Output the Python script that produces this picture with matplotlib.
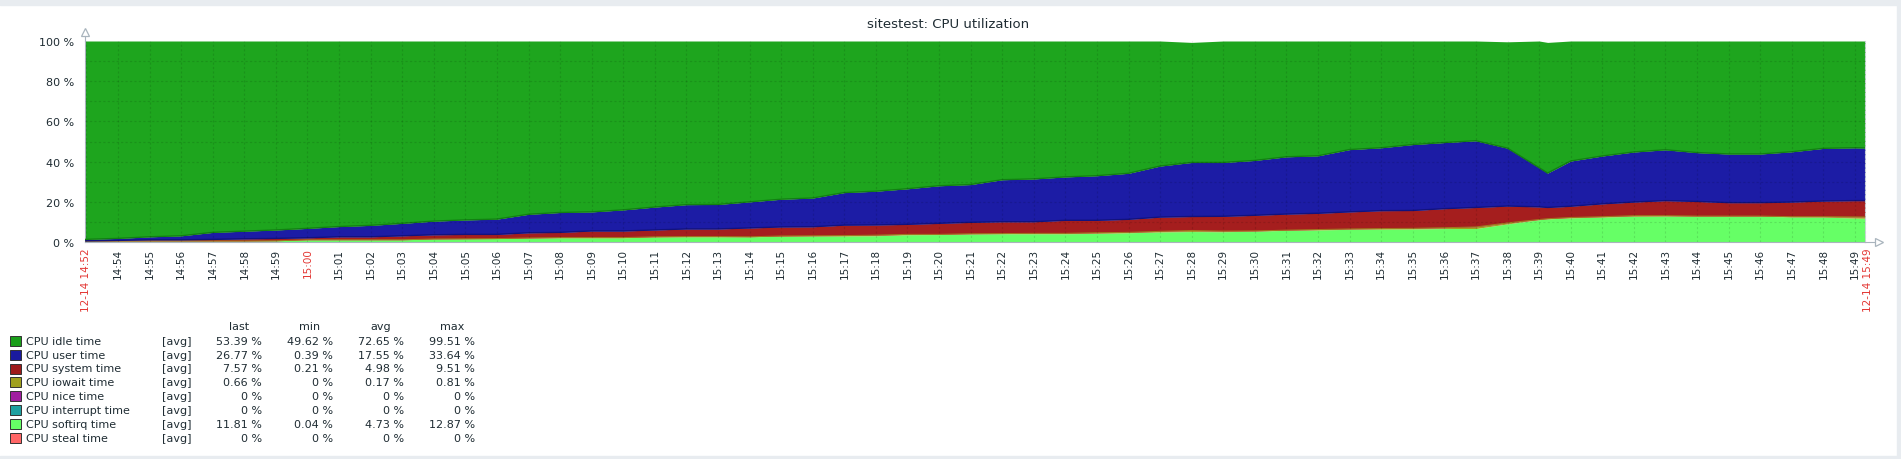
import matplotlib
matplotlib.use("Agg")
import matplotlib.pyplot as plt
from matplotlib.patches import Rectangle

W, H = 1901, 460
TEXT = "#1f2c33"
RED_LABEL = "#e33734"
AXIS_GREY = "#a9b4bd"

# sample times, minutes after 14:52 on 12-14
time_min = [0.955, 2, 3, 4, 5, 6, 7, 8, 9, 10, 11, 12, 13, 14, 15, 16, 17, 18,
            19, 20, 21, 22, 23, 24, 25, 26, 27, 28, 29, 30, 31, 32, 33, 34, 35,
            36, 37, 38, 39, 40, 41, 42, 43, 44, 45, 46, 47, 47.27, 48, 49, 50,
            51, 52, 53, 54, 55, 56, 57, 57.32]

# stacked levels (%), bottom to top
softirq_top = [0.4, 0.5, 0.5, 0.5, 0.5, 0.5, 0.6, 1.1, 1.1, 1.1, 1.1, 1.5, 1.6,
               1.7, 1.9, 2.1, 2.1, 2.1, 2.5, 2.6, 2.6, 2.6, 2.8, 3.0, 3.0, 3.1,
               3.6, 3.7, 4.0, 4.1, 4.1, 4.1, 4.3, 4.6, 5.0, 5.2, 5.1, 5.4, 5.8,
               6.0, 6.3, 6.4, 6.5, 6.7, 6.7, 9.0, 11.1, 11.5, 12.0, 12.4, 12.8,
               12.9, 12.8, 12.8, 12.8, 12.5, 12.4, 11.9, 11.8]
iowait_top = [0.4, 0.5, 0.5, 0.5, 0.5, 0.5, 0.6, 1.1, 1.1, 1.1, 1.1, 1.5, 1.6,
              1.7, 2.0, 2.2, 2.2, 2.2, 2.6, 2.7, 2.7, 2.6, 3.0, 3.1, 3.2, 3.4,
              3.8, 3.8, 4.1, 4.2, 4.3, 4.3, 4.6, 4.8, 5.3, 5.7, 5.4, 5.5, 5.9,
              6.2, 6.5, 6.7, 6.8, 7.1, 7.5, 9.5, 11.2, 11.6, 12.2, 12.6, 13.1,
              13.1, 12.9, 12.9, 12.9, 12.6, 12.6, 12.5, 12.46]
system_top = [0.6, 0.8, 1.1, 1.1, 1.3, 1.6, 1.8, 2.1, 2.6, 2.6, 3.1, 3.6, 3.8,
              3.8, 4.6, 4.8, 5.5, 5.5, 6.0, 6.5, 6.5, 7.0, 7.5, 7.6, 8.4, 8.5,
              8.8, 9.3, 9.8, 10.1, 10.1, 10.8, 10.8, 11.3, 12.4, 12.7, 12.8,
              13.3, 13.9, 14.3, 15.0, 15.6, 15.7, 16.6, 17.2, 17.9, 17.5, 17.2,
              17.8, 19.0, 19.9, 20.6, 20.2, 19.6, 19.6, 19.9, 20.4, 20.6, 20.6]
user_top = [1.3, 1.8, 2.6, 3.1, 4.8, 5.4, 6.0, 6.8, 7.7, 8.3, 9.3, 10.4, 11.0,
            11.4, 13.8, 14.7, 15.0, 16.0, 17.4, 18.6, 18.7, 20.0, 21.3, 21.9,
            24.6, 25.3, 26.5, 28.0, 28.6, 31.0, 31.4, 32.4, 33.0, 34.2, 37.8,
            39.6, 39.6, 40.6, 42.4, 42.9, 46.0, 46.9, 48.5, 49.5, 50.4, 46.7,
            37.0, 34.3, 40.3, 42.8, 44.8, 45.9, 44.5, 43.8, 43.8, 44.9, 46.6,
            46.9, 46.8]
idle_top = [100, 100, 100, 100, 100, 100, 100, 100, 100, 100, 100, 100, 100,
            100, 100, 100, 100, 100, 100, 100, 100, 100, 100, 100, 100, 100,
            100, 100, 100, 100, 100, 100, 100, 100, 100, 99.3, 100, 100, 100,
            100, 100, 100, 100, 100, 100, 99.6, 100, 99.3, 100, 100, 100, 100,
            100, 100, 100, 100, 100, 100, 100]

tick_min = list(range(2, 58))
tick_labels = (["14:%02d" % m for m in range(54, 60)]
               + ["15:%02d" % m for m in range(0, 50)])
red_ticks = ["15:00"]
start_label = "12-14 14:52"
end_label = "12-14 15:49"

# legend table
names = ["CPU idle time", "CPU user time", "CPU system time", "CPU iowait time",
         "CPU nice time", "CPU interrupt time", "CPU softirq time", "CPU steal time"]
swatches = ["#1a9e1a", "#1a1a9e", "#9e1a1a", "#a0a01e", "#a01ea0", "#1ea0a0",
            "#66ff66", "#ff6666"]
last_v = ["53.39 %", "26.77 %", "7.57 %", "0.66 %", "0 %", "0 %", "11.81 %", "0 %"]
min_v = ["49.62 %", "0.39 %", "0.21 %", "0 %", "0 %", "0 %", "0.04 %", "0 %"]
avg_v = ["72.65 %", "17.55 %", "4.98 %", "0.17 %", "0 %", "0 %", "4.73 %", "0 %"]
max_v = ["99.51 %", "33.64 %", "9.51 %", "0.81 %", "0 %", "0 %", "12.87 %", "0 %"]

fig = plt.figure(figsize=(W / 100, H / 100), dpi=100)
fig.patch.set_facecolor("white")


def fx(x):
    return x / W


def fy(y):
    return 1 - y / H


# page chrome
fig.patches.append(Rectangle((0, fy(6)), 1, 6 / H, transform=fig.transFigure,
                             color="#e8ecf0", zorder=0))
fig.patches.append(Rectangle((0, 0), 1, 3 / H, transform=fig.transFigure,
                             color="#e8ecf0", zorder=0))
fig.patches.append(Rectangle((fx(1897), 0), 4 / W, 1, transform=fig.transFigure,
                             color="#e8ecf0", zorder=0))

ax = fig.add_axes([fx(85), fy(243), 1780 / W, 201 / H])
ax.set_xlim(0.955, 57.32)
ax.set_ylim(0, 100)
ax.set_facecolor("white")

zero = [0] * len(time_min)
ax.fill_between(time_min, zero, softirq_top, color="#66ff66", lw=0, zorder=2)
ax.fill_between(time_min, softirq_top, iowait_top, color="#a0a01e", lw=0, zorder=2)
ax.fill_between(time_min, iowait_top, system_top, color="#a51e1e", lw=0, zorder=2)
ax.fill_between(time_min, system_top, user_top, color="#1c1ca5", lw=0, zorder=2)
ax.fill_between(time_min, user_top, idle_top, color="#1ea51e", lw=0, zorder=2)
ax.plot(time_min, iowait_top, color="#a07a1e", lw=0.7, zorder=3)
ax.plot(time_min, system_top, color="#12127e", lw=1.0, zorder=3)
ax.plot(time_min, user_top, color="#128012", lw=1.0, zorder=3)

# dotted grid over the areas
for m in range(1, 58):
    ax.axvline(m, color=(0, 0, 0, 0.11), lw=0.8, ls=(0, (2, 2)), zorder=4)
for v in range(10, 100, 10):
    ax.axhline(v, color=(0, 0, 0, 0.11), lw=0.8, ls=(0, (2, 2)), zorder=4)

ax.spines["top"].set_visible(False)
ax.spines["left"].set_color(AXIS_GREY)
ax.spines["bottom"].set_color(AXIS_GREY)
ax.spines["right"].set_color("#c8d0d6")
ax.spines["right"].set_linestyle((0, (2, 2)))
ax.spines["left"].set_linewidth(0.8)
ax.spines["bottom"].set_linewidth(0.8)

# axis arrows
ax.plot([0.955], [104.5], marker="^", ms=6, mfc="white", mec=AXIS_GREY,
        mew=0.9, clip_on=False, zorder=5)
ax.plot([0.955, 0.955], [100, 103], color=AXIS_GREY, lw=0.8, clip_on=False)
ax.plot([57.32, 57.62], [0, 0], color=AXIS_GREY, lw=0.8, clip_on=False)
ax.plot([57.75], [0], marker=">", ms=6, mfc="white", mec=AXIS_GREY,
        mew=0.9, clip_on=False, zorder=5)

ax.set_yticks(range(0, 101, 20))
ax.set_yticklabels(["%d %%" % v for v in range(0, 101, 20)])
ax.tick_params(axis="y", length=0, pad=8, labelsize=8, labelcolor=TEXT)

ax.set_xticks(tick_min)
ax.set_xticklabels(tick_labels, rotation=90, va="top", ha="center")
ax.tick_params(axis="x", length=0, pad=4, labelsize=7.5, labelcolor=TEXT)
for lab in ax.get_xticklabels():
    if lab.get_text() in red_ticks:
        lab.set_color(RED_LABEL)

# period start / end labels
for xv, txt, dx in [(0.955, start_label, 0.5), (57.32, end_label, 2.5)]:
    ax.annotate(txt, xy=(xv, 0), xycoords=("data", "axes fraction"),
                xytext=(dx, -4), textcoords="offset points", rotation=90,
                ha="center", va="top", fontsize=7.5, color=RED_LABEL,
                annotation_clip=False)

fig.text(fx(948), fy(24), "sitestest: CPU utilization", ha="center",
         va="center", fontsize=9.5, color=TEXT)

# legend table
col_right = [262, 333, 404, 475]
headers = ["last", "min", "avg", "max"]
for xr, h in zip(col_right, headers):
    fig.text(fx(xr - 23), fy(327), h, ha="center", va="center", fontsize=8,
             color=TEXT)
for i, name in enumerate(names):
    y = 341.7 + i * 13.9
    fig.patches.append(Rectangle((fx(10), fy(y + 5)), 11 / W, 10 / H,
                                 transform=fig.transFigure, facecolor=swatches[i],
                                 edgecolor="#333333", lw=0.7))
    fig.text(fx(26), fy(y), name, ha="left", va="center", fontsize=8, color=TEXT)
    fig.text(fx(162), fy(y), "[avg]", ha="left", va="center", fontsize=8,
             color=TEXT)
    for xr, vals in zip(col_right, [last_v, min_v, avg_v, max_v]):
        fig.text(fx(xr), fy(y), vals[i], ha="right", va="center", fontsize=8,
                 color=TEXT)

fig.savefig("out.png", dpi=100, facecolor="white")
